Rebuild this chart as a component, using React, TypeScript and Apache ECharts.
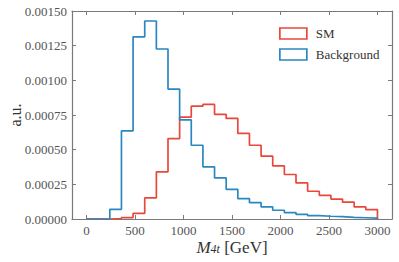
import React, { useEffect, useRef } from "react";
import * as echarts from "echarts";

const binEdges = [0, 120, 240, 360, 480, 600, 720, 840, 960, 1080, 1200, 1320, 1440, 1560, 1680, 1800, 1920, 2040, 2160, 2280, 2400, 2520, 2640, 2760, 2880, 3000];
const smValues = [0, 0, 0.000003, 0.00001, 0.000041, 0.000152, 0.00034, 0.00058, 0.000734, 0.000814, 0.000826, 0.000754, 0.000725, 0.000617, 0.000532, 0.000453, 0.000383, 0.000321, 0.00026, 0.0002, 0.000171, 0.000144, 0.000121, 0.000087, 0.000068];
const bgValues = [0, 0, 0.00007, 0.000636, 0.001314, 0.001428, 0.001226, 0.000937, 0.000715, 0.000532, 0.000376, 0.000296, 0.000214, 0.000147, 0.000118, 0.000087, 0.000063, 0.000046, 0.000034, 0.000025, 0.00002, 0.000017, 0.000012, 0.000009, 0.000006];
const xTicks = [0, 500, 1000, 1500, 2000, 2500, 3000];
const seriesNames = ["SM", "Background"];

const RED = "#e8483a";
const BLUE = "#2b87c1";
const FONT = "Liberation Serif";

function stepPoints(edges: number[], vals: number[]) {
  const pts: number[][] = [[edges[0], 0]];
  for (let i = 0; i < vals.length; i++) {
    pts.push([edges[i], vals[i]]);
    pts.push([edges[i + 1], vals[i]]);
  }
  pts.push([edges[edges.length - 1], 0]);
  return pts;
}

export default function App() {
  const ref = useRef<HTMLDivElement>(null);
  useEffect(() => {
    document.body.style.margin = "0";
    const chart = echarts.init(ref.current!, null, { renderer: "svg" });
    const axisColor = "#7a7a7a";
    const labelColor = "#555";
    const tick = { show: true, inside: true, length: 4, lineStyle: { color: axisColor, width: 1 } };
    const line = { show: true, onZero: false, lineStyle: { color: axisColor, width: 1.2 } };
    chart.setOption({
      animation: false,
      backgroundColor: "#fff",
      grid: { left: 72, right: 7, top: 11, bottom: 43, containLabel: false, outerBoundsMode: "none" },
      legend: {
        orient: "vertical",
        left: 274,
        top: 22,
        itemWidth: 27,
        itemHeight: 11,
        itemGap: 8,
        icon: "rect",
        textStyle: { fontFamily: FONT, fontSize: 13, color: "#333", padding: [0, 0, 0, 4] },
        data: [
          { name: seriesNames[0], itemStyle: { color: "#fff", borderColor: RED, borderWidth: 1.7 } },
          { name: seriesNames[1], itemStyle: { color: "#fff", borderColor: BLUE, borderWidth: 1.7 } },
        ],
      },
      xAxis: [
        {
          type: "value",
          min: -150,
          max: 3150,
          axisLine: line,
          axisTick: { ...tick, customValues: xTicks },
          axisLabel: {
            customValues: xTicks,
            color: labelColor,
            fontFamily: FONT,
            fontSize: 13,
            margin: 5,
            lineHeight: 13,
            formatter: (v: number) => String(v),
          },
          splitLine: { show: false },
          name: "{i|M}{s|4t}{n| [GeV]}",
          nameLocation: "middle",
          nameGap: 20,
          nameMoveOverlap: false,
          nameTextStyle: {
            rich: {
              i: { fontFamily: FONT, fontStyle: "italic", fontSize: 17, lineHeight: 16, color: "#333" },
              s: { fontFamily: FONT, fontStyle: "italic", fontSize: 12, lineHeight: 12, color: "#333", verticalAlign: "bottom", padding: [4, 0, 0, 0] },
              n: { fontFamily: FONT, fontSize: 17, lineHeight: 16, color: "#333" },
            },
          },
        },
        {
          type: "value",
          position: "top",
          min: -150,
          max: 3150,
          axisLine: line,
          axisTick: { ...tick, customValues: xTicks },
          axisLabel: { show: false },
          splitLine: { show: false },
        },
      ],
      yAxis: [
        {
          type: "value",
          min: 0,
          max: 0.0015,
          interval: 0.00025,
          axisLine: line,
          axisTick: tick,
          axisLabel: {
            color: labelColor,
            fontFamily: FONT,
            fontSize: 13,
            margin: 5,
            formatter: (v: number) => v.toFixed(5),
          },
          splitLine: { show: false },
          name: "a.u.",
          nameLocation: "middle",
          nameRotate: 90,
          nameGap: 50,
          nameMoveOverlap: false,
          nameTextStyle: { fontFamily: FONT, fontSize: 16, lineHeight: 14, color: "#333" },
        },
        {
          type: "value",
          position: "right",
          min: 0,
          max: 0.0015,
          interval: 0.00025,
          axisLine: line,
          axisTick: tick,
          axisLabel: { show: false },
          splitLine: { show: false },
        },
      ],
      series: [
        {
          name: seriesNames[0],
          type: "line",
          data: stepPoints(binEdges, smValues),
          showSymbol: false,
          lineStyle: { color: RED, width: 1.7 },
          itemStyle: { color: "#fff", borderColor: RED, borderWidth: 1.7 },
          z: 2,
        },
        {
          name: seriesNames[1],
          type: "line",
          data: stepPoints(binEdges, bgValues),
          showSymbol: false,
          lineStyle: { color: BLUE, width: 1.7 },
          itemStyle: { color: "#fff", borderColor: BLUE, borderWidth: 1.7 },
          z: 3,
        },
      ],
    });
    return () => chart.dispose();
  }, []);
  return <div ref={ref} style={{ width: 399, height: 262 }} />;
}
